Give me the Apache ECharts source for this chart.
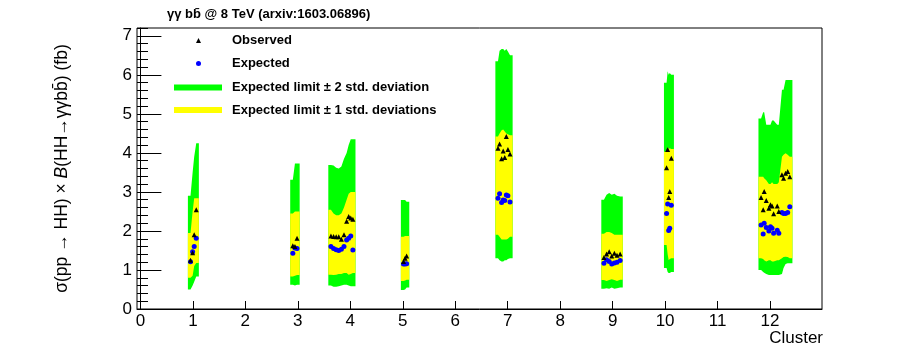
<!DOCTYPE html>
<html><head><meta charset="utf-8">
<script src="https://cdn.jsdelivr.net/npm/echarts@6/dist/echarts.min.js"></script>
<style>html,body{margin:0;padding:0;background:#fff}#c{width:913px;height:364px}</style>
</head><body><div id="c"></div>
<script>
// cluster of each benchmark point
const clusterOf = [
  1, 1, 1, 1,
  3, 3, 3,
  4, 4, 4, 4, 4, 4, 4, 4, 4, 4,
  5, 5, 5,
  7, 7, 7, 7, 7, 7, 7, 7,
  9, 9, 9, 9, 9, 9, 9,
  10, 10, 10, 10, 10,
  12, 12, 12, 12, 12, 12, 12, 12, 12, 12, 12, 12, 12, 12, 12
];
const clusters = [1, 3, 4, 5, 7, 9, 10, 12];
// benchmark positions (x, in cluster units)
const xPos = [
  0.955, 0.995, 1.025, 1.064,
  2.905, 2.945, 2.985,
  3.631, 3.681, 3.731, 3.780, 3.830, 3.880, 3.930, 3.969, 4.009, 4.049,
  5.014, 5.044, 5.074,
  6.815, 6.845, 6.884, 6.914, 6.944, 6.974, 7.004, 7.044,
  8.834, 8.884, 8.934, 8.983, 9.033, 9.083, 9.143,
  10.028, 10.048, 10.068, 10.088, 10.118,
  11.829, 11.869, 11.888, 11.928, 11.978, 12.008, 12.038, 12.068, 12.137, 12.167, 12.227, 12.257, 12.296, 12.336, 12.376
];
const band2Lo = [
  0.50, 0.60, 0.70, 0.83,
  0.62, 0.60, 0.62,
  0.60, 0.57, 0.57, 0.58, 0.60, 0.62, 0.62, 0.60, 0.58, 0.58,
  0.49, 0.50, 0.55,
  1.30, 1.25, 1.22, 1.22, 1.25, 1.25, 1.28, 1.30,
  0.52, 0.53, 0.52, 0.55, 0.52, 0.53, 0.55,
  1.05, 0.95, 0.92, 0.92, 0.95,
  1.00, 0.95, 0.93, 0.90, 0.87, 0.87, 0.87, 0.87, 0.87, 0.87, 0.90, 1.05, 1.15, 1.17, 1.17
];
const band1Lo = [
  0.80, 0.85, 1.10, 1.18,
  0.83, 0.85, 0.87,
  0.88, 0.87, 0.88, 0.90, 0.90, 0.92, 0.92, 0.88, 0.90, 0.92,
  0.72, 0.73, 0.75,
  1.90, 1.85, 1.78, 1.78, 1.78, 1.78, 1.80, 1.85,
  0.74, 0.72, 0.74, 0.76, 0.74, 0.72, 0.75,
  1.64, 1.40, 1.25, 1.28, 1.30,
  1.30, 1.28, 1.25, 1.22, 1.25, 1.25, 1.22, 1.22, 1.25, 1.25, 1.30, 1.33, 1.34, 1.33, 1.30
];
const expected = [
  1.21, 1.47, 1.60, 1.81,
  1.43, 1.56, 1.55,
  1.60, 1.55, 1.52, 1.50, 1.53, 1.60, 1.77, 1.81, 1.87, 1.51,
  1.15, 1.15, 1.16,
  2.84, 2.95, 2.73, 2.79, 2.78, 2.92, 2.90, 2.74,
  1.17, 1.26, 1.22, 1.15, 1.18, 1.20, 1.24,
  2.45, 2.69, 2.01, 2.07, 2.66,
  2.15, 1.92, 2.20, 2.09, 2.00, 2.11, 2.07, 1.94, 2.02, 1.94, 2.47, 2.45, 2.45, 2.47, 2.62
];
const band1Hi = [
  1.95, 2.50, 2.84, 2.84,
  2.45, 2.50, 2.50,
  2.54, 2.45, 2.40, 2.40, 2.45, 2.60, 2.80, 2.95, 3.00, 3.00,
  1.85, 1.87, 1.87,
  4.42, 4.50, 4.58, 4.60, 4.55, 4.50, 4.48, 4.45,
  1.93, 1.97, 1.97, 1.95, 1.90, 1.90, 1.90,
  4.03, 4.16, 4.10, 4.12, 4.10,
  3.39, 3.39, 3.35, 3.30, 3.20, 3.20, 3.25, 3.20, 3.20, 3.25, 3.90, 3.95, 3.99, 3.95, 3.90
];
const band2Hi = [
  2.90, 3.50, 3.90, 4.25,
  3.31, 3.73, 3.73,
  3.69, 3.68, 3.62, 3.60, 3.65, 3.85, 4.00, 4.20, 4.35, 4.35,
  2.79, 2.79, 2.75,
  6.35, 6.62, 6.66, 6.66, 6.62, 6.66, 6.60, 6.50,
  2.80, 2.93, 2.97, 2.93, 2.95, 2.90, 2.88,
  5.80, 6.09, 6.00, 6.05, 6.00,
  4.88, 5.04, 5.04, 4.72, 4.72, 4.72, 4.83, 4.83, 4.72, 4.72, 5.62, 5.62, 5.87, 5.87, 5.87
];
const observed = [
  1.25, 1.44, 1.90, 2.54,
  1.62, 1.60, 1.81,
  1.87, 1.86, 1.85, 1.85, 1.79, 1.90, 2.25, 2.37, 2.33, 2.30,
  1.22, 1.30, 1.36,
  4.12, 4.23, 3.85, 4.05, 3.88, 4.42, 4.09, 3.97,
  1.32, 1.41, 1.47, 1.36, 1.43, 1.38, 1.41,
  3.62, 4.09, 2.86, 3.01, 3.86,
  2.86, 2.54, 3.01, 2.78, 2.58, 2.67, 2.64, 2.44, 2.64, 2.50, 3.44, 3.35, 3.48, 3.52, 3.39
];
const xTickLabels = ['0','1','2','3','4','5','6','7','8','9','10','11','12'];
const seriesNames = ['Observed', 'Expected', 'Expected limit \u00b1 2 std. deviation', 'Expected limit \u00b1 1 std. deviations'];
const titleText = '\u03b3\u03b3 bb\u0304 @ 8 TeV (arxiv:1603.06896)';

const FONT = "'Liberation Sans', Arial, Helvetica, sans-serif";
const HW = 0.05;
const GREEN = '#00ff00', YELLOW = '#ffff00', BLUE = '#0000ff';

function polyRenderer(lo, hi, color) {
  return function (params, api) {
    const c = api.value(0);
    const idx = [];
    clusterOf.forEach((k, i) => { if (k === c) idx.push(i); });
    idx.sort((a, b) => xPos[a] - xPos[b]);
    const f = idx[0], l = idx[idx.length - 1];
    const pts = [];
    pts.push(api.coord([xPos[f] - HW, hi[f]]));
    idx.forEach(i => pts.push(api.coord([xPos[i], hi[i]])));
    pts.push(api.coord([xPos[l] + HW, hi[l]]));
    pts.push(api.coord([xPos[l] + HW, lo[l]]));
    idx.slice().reverse().forEach(i => pts.push(api.coord([xPos[i], lo[i]])));
    pts.push(api.coord([xPos[f] - HW, lo[f]]));
    return { type: 'polygon', shape: { points: pts }, style: { fill: color } };
  };
}

const chart = echarts.init(document.getElementById('c'), null, { renderer: 'canvas' });
const legendText = { fontFamily: FONT, fontSize: 13, fontWeight: 'bold', color: '#000' };
chart.setOption({
  animation: false,
  backgroundColor: '#fff',
  title: {
    text: titleText, left: 167, top: 8, padding: 0,
    textStyle: { fontFamily: FONT, fontSize: 13, fontWeight: 'bold', color: '#000' }
  },
  legend: [
    { data: [{ name: seriesNames[0], icon: 'triangle' }, { name: seriesNames[1], icon: 'circle' }],
      orient: 'vertical', left: 196, top: 34, padding: 0, itemWidth: 5, itemHeight: 5, itemGap: 10,
      selectedMode: false, textStyle: Object.assign({ padding: [0, 0, 0, 26] }, legendText) },
    { data: [{ name: seriesNames[2], icon: 'rect' }, { name: seriesNames[3], icon: 'rect' }],
      orient: 'vertical', left: 174, top: 81, padding: 0, itemWidth: 48, itemHeight: 6, itemGap: 9.5,
      selectedMode: false, textStyle: Object.assign({ padding: [0, 0, 0, 5] }, legendText) }
  ],
  grid: { left: 137, top: 28, width: 685, height: 281, show: true, borderColor: '#000', borderWidth: 1, backgroundColor: 'transparent' },
  xAxis: {
    type: 'value', min: -0.065, max: 12.99, splitNumber: 13, minInterval: 1, maxInterval: 1,
    axisLine: { lineStyle: { color: '#000', width: 1 } },
    axisTick: { inside: true, length: 8, lineStyle: { color: '#000' } },
    axisLabel: {
      showMinLabel: false, showMaxLabel: false, margin: 4, color: '#000', fontFamily: FONT, fontSize: 17,
      formatter: v => { const k = Math.round(v); return (Math.abs(v - k) < 1e-6 && k >= 0 && k < xTickLabels.length) ? xTickLabels[k] : ''; }
    },
    splitLine: { show: false },
    name: 'Cluster', nameLocation: 'end', nameGap: 1,
    nameTextStyle: { fontFamily: FONT, fontSize: 17, color: '#000', align: 'right', verticalAlign: 'top', padding: [21, 0, 0, 0] }
  },
  yAxis: [
    {
      type: 'value', position: 'left', min: 0, max: 7.2, interval: 1,
      axisLine: { lineStyle: { color: '#000', width: 1 } },
      axisTick: { inside: true, length: 21, lineStyle: { color: '#000' } },
      axisLabel: { showMaxLabel: false, margin: 5, color: '#000', fontFamily: FONT, fontSize: 17 },
      splitLine: { show: false },
      name: '\u03c3(pp \u2192 HH) \u00d7 {i|B}(HH\u2192\u03b3\u03b3bb\u0304) (fb)',
      nameLocation: 'middle', nameGap: 66, nameRotate: 90,
      nameTextStyle: {
        fontFamily: FONT, fontSize: 17.5, color: '#000',
        rich: { i: { fontFamily: FONT, fontSize: 17.5, fontStyle: 'italic', color: '#000' } }
      }
    },
    {
      type: 'value', position: 'left', min: 0, max: 7.2, interval: 0.2,
      axisLine: { show: false },
      axisTick: { inside: true, length: 11, lineStyle: { color: '#000' } },
      axisLabel: { show: false },
      splitLine: { show: false }
    }
  ],
  series: [
    { name: seriesNames[2], type: 'custom', renderItem: polyRenderer(band2Lo, band2Hi, GREEN), itemStyle: { color: GREEN },
      data: clusters.map(c => [c]), z: 1, silent: true },
    { name: seriesNames[3], type: 'custom', renderItem: polyRenderer(band1Lo, band1Hi, YELLOW), itemStyle: { color: YELLOW },
      data: clusters.map(c => [c]), z: 2, silent: true },
    { name: seriesNames[1], type: 'scatter', symbol: 'circle', symbolSize: 5, itemStyle: { color: BLUE, opacity: 1 },
      data: xPos.map((x, i) => [x, expected[i]]), z: 3 },
    { name: seriesNames[0], type: 'scatter', symbol: 'triangle', symbolSize: 5, itemStyle: { color: '#000', opacity: 1 },
      data: xPos.map((x, i) => [x, observed[i]]), z: 4 }
  ]
});
</script></body></html>
